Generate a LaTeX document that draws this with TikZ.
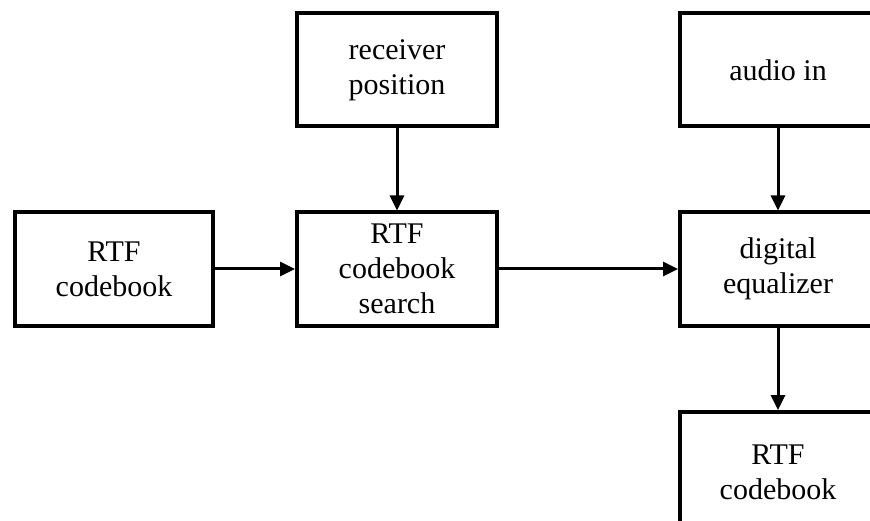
\documentclass[tikz,border=0pt]{standalone}
\usepackage{fontspec}
\setmainfont{Liberation Serif}
\usetikzlibrary{arrows.meta}
\begin{document}
\begin{tikzpicture}[x=1pt,y=-1pt,
  blk/.style={draw,line width=4pt,minimum width=200pt,minimum height=113pt,inner sep=0pt,align=center,font=\fontsize{30}{35}\selectfont},
  wideblk/.style={blk,minimum width=196pt},
  conn/.style={line width=3pt,-{Triangle[length=15pt,width=14pt]}}]
\useasboundingbox (0,0) rectangle (870,521);
\clip (0,0) rectangle (870,521);
\node[blk] (rp) at (397,70) {receiver\\position};
\node[wideblk] (ai) at (778,70) {audio in};
\node[blk,minimum width=198pt] (cb) at (114,269) {RTF\\codebook};
\node[blk] (cs) at (397,269) {RTF\\codebook\\search};
\node[wideblk] (de) at (778,269) {digital\\equalizer};
\node[wideblk,minimum height=114pt,anchor=north] (cb2) at (778,410) {};
\node[font=\fontsize{30}{35}\selectfont,align=center] (cb2t) at (778,472) {RTF\\codebook};
\draw[conn] (rp) -- (cs);
\draw[conn] (cb) -- (cs);
\draw[conn] (cs) -- (de);
\draw[conn] (ai) -- (de);
\draw[conn] (de) -- (cb2);
\end{tikzpicture}
\end{document}
